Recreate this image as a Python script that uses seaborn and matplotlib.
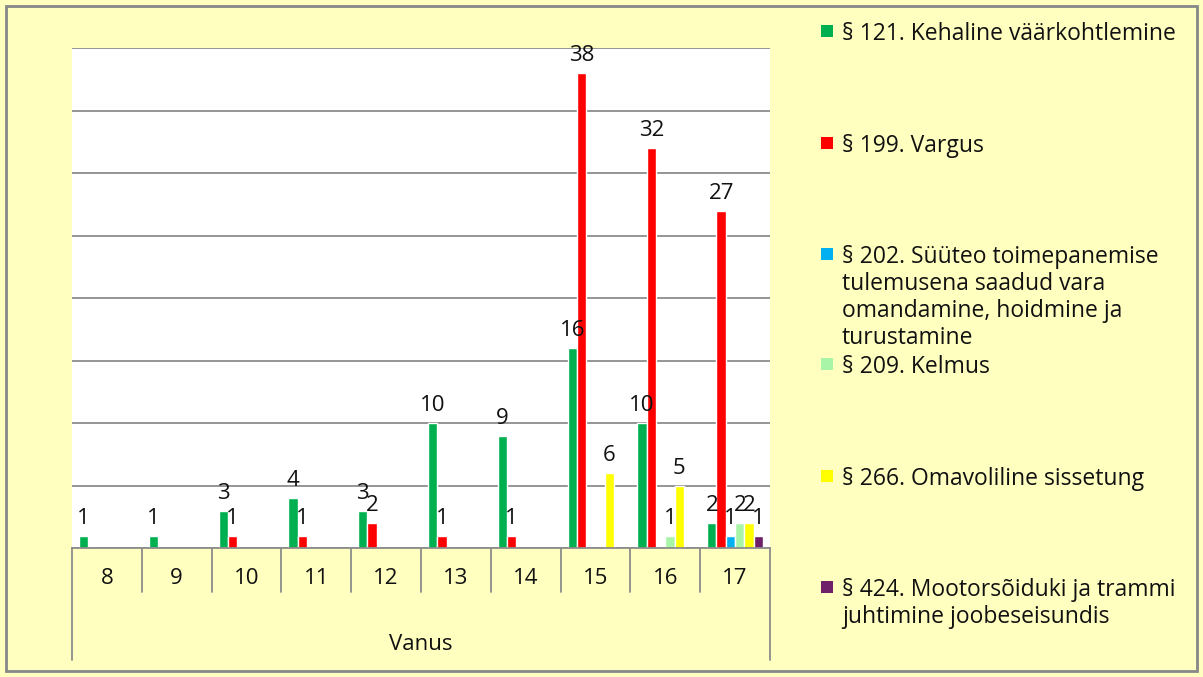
import pandas as pd
import numpy as np
import matplotlib.pyplot as plt
import matplotlib.patches as mpatches
import seaborn as sns

# Data
ages = ["8", "9", "10", "11", "12", "13", "14", "15", "16", "17"]
series = [
    "§ 121. Kehaline väärkohtlemine",
    "§ 199. Vargus",
    "§ 202. Süüteo toimepanemise\ntulemusena saadud vara\nomandamine, hoidmine ja\nturustamine",
    "§ 209. Kelmus",
    "§ 266. Omavoliline sissetung",
    "§ 424. Mootorsõiduki ja trammi\njuhtimine joobeseisundis",
]
nan = np.nan
s121 = [1, 1, 3, 4, 3, 10, 9, 16, 10, 2]
s199 = [nan, nan, 1, 1, 2, 1, 1, 38, 32, 27]
s202 = [nan, nan, nan, nan, nan, nan, nan, nan, nan, 1]
s209 = [nan, nan, nan, nan, nan, nan, nan, nan, 1, 2]
s266 = [nan, nan, nan, nan, nan, nan, nan, 6, 5, 2]
s424 = [nan, nan, nan, nan, nan, nan, nan, nan, nan, 1]
colors = ["#00B050", "#FF0000", "#00B0F0", "#A8F5A8", "#FFFF00", "#6E2068"]

rows = []
for name, vals in zip(series, [s121, s199, s202, s209, s266, s424]):
    for age, v in zip(ages, vals):
        if not np.isnan(v):
            rows.append({"Vanus": age, "Paragrahv": name, "Arv": v})
df = pd.DataFrame(rows)

sns.set_style("white")
plt.rcParams['font.family'] = ['Open Sans', 'DejaVu Sans']
txtcol = "#111111"

bg = "#FFFFC0"
fig = plt.figure(figsize=(12.03, 6.77), dpi=100, facecolor=bg)
W, H = 1203, 677
ax = fig.add_axes([72 / W, (H - 548) / H, 698 / W, 500 / H])
ax.set_facecolor("white")

sns.barplot(data=df, x="Vanus", y="Arv", hue="Paragrahv", order=ages,
            hue_order=series, palette=colors, width=0.8, saturation=1,
            legend=False, ax=ax)

# value labels (in the original the ones over age 17 crowd together too)
for cont in ax.containers:
    ax.bar_label(cont, labels=[f"{int(b.get_height())}" for b in cont],
                 padding=5, fontsize=16, color=txtcol)

ax.set_ylim(0, 40)
ax.set_xlim(-0.5, 9.5)
ax.set_yticks(np.arange(0, 41, 5))
ax.grid(axis="y", color="#8c8c8c", linewidth=1.3)
ax.set_axisbelow(True)
ax.tick_params(left=False, labelleft=False, bottom=False, labelbottom=False)
for sp in ["left", "right", "top"]:
    ax.spines[sp].set_visible(False)
ax.spines["bottom"].set_color("#8c8c8c")
ax.spines["bottom"].set_linewidth(1.3)
ax.set_xlabel("")
ax.set_ylabel("")

# table-style category axis
trans = ax.get_xaxis_transform()
for i in range(1, len(ages)):
    ax.plot([i - 0.5, i - 0.5], [0, -44 / 500], color="#8c8c8c", lw=1.3,
            transform=trans, clip_on=False)
for xe in [-0.5, 9.5]:
    ax.plot([xe, xe], [0, -112 / 500], color="#8c8c8c", lw=1.3,
            transform=trans, clip_on=False)
for i, a in enumerate(ages):
    ax.text(i, -30 / 500, a, transform=trans, ha="center", va="center",
            fontsize=16, color=txtcol)
ax.text(4.5, -97 / 500, "Vanus", transform=trans, ha="center", va="center",
        fontsize=16, color=txtcol)

# legend placed like the original
tops = [30, 142, 253, 363, 475, 586]
for name, col, t in zip(series, colors, tops):
    fig.patches.append(mpatches.Rectangle((821 / W, 1 - (t + 7) / H), 12 / W, 12 / H,
                                          transform=fig.transFigure, facecolor=col,
                                          edgecolor="none"))
    fig.text(842 / W, 1 - (t - 8) / H, name, ha="left", va="top", fontsize=16.5,
             color=txtcol, linespacing=1.17)

# outer border
fig.patches.append(mpatches.Rectangle((6 / W, 6 / H), 1 - 12 / W, 1 - 12 / H,
                                      transform=fig.transFigure, fill=False,
                                      edgecolor="#888888", linewidth=2))

fig.savefig("out.png", dpi=100, facecolor=bg)
